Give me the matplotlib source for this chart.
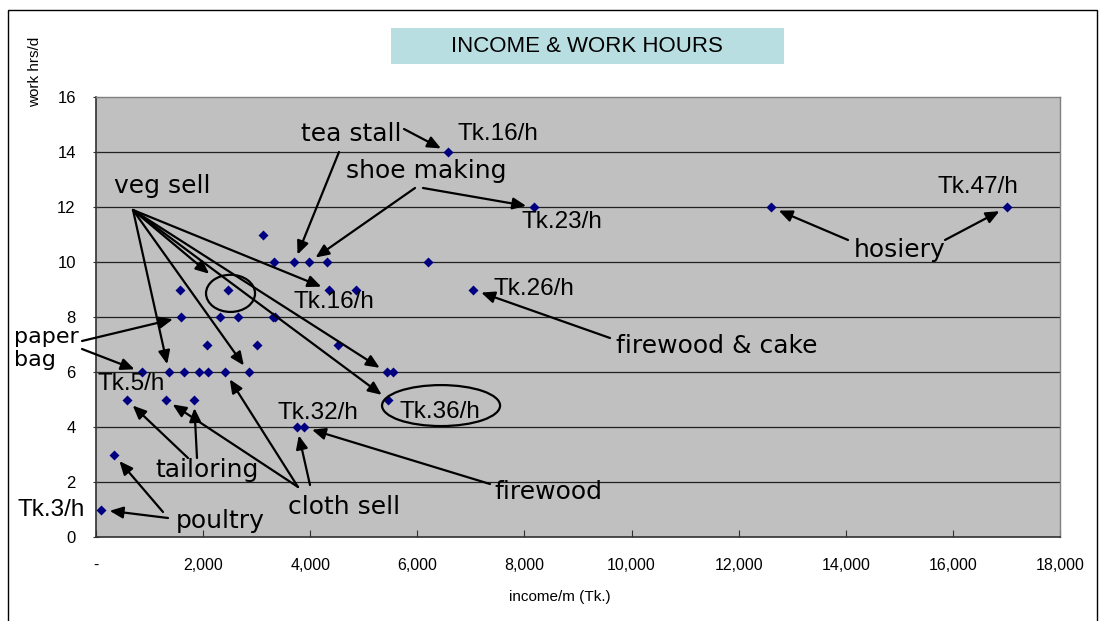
import matplotlib
matplotlib.use("Agg")
import matplotlib.pyplot as plt
from matplotlib.patches import Ellipse, Rectangle

# ---------------- data ----------------
income = [100, 336, 573, 1301, 1830, 5459, 865, 1363, 1649, 1918, 2098, 2415, 2851,
          5428, 5540, 2067, 3001, 4525, 1587, 2322, 2646, 3300, 3340, 1569, 2471,
          4351, 4850, 7046, 3324, 3704, 3972, 4320, 6194, 3113, 8185, 12605, 17007,
          6579, 3753, 3884]
hours = [1, 3, 5, 5, 5, 5, 6, 6, 6, 6, 6, 6, 6,
         6, 6, 7, 7, 7, 8, 8, 8, 8, 8, 9, 9,
         9, 9, 9, 10, 10, 10, 10, 10, 11, 12, 12, 12,
         14, 4, 4]
x_ticks = [0, 2000, 4000, 6000, 8000, 10000, 12000, 14000, 16000, 18000]
x_tick_labels = ["-", "2,000", "4,000", "6,000", "8,000", "10,000", "12,000",
                 "14,000", "16,000", "18,000"]
y_ticks = [0, 2, 4, 6, 8, 10, 12, 14, 16]
title = "INCOME & WORK HOURS"
x_label = "income/m (Tk.)"
y_label = "work hrs/d"

W, H = 1105, 621
fig = plt.figure(figsize=(W / 100, H / 100), dpi=100)
fig.patch.set_facecolor("white")

L, R, T, B = 96, 1060, 97.3, 537.3
ax = fig.add_axes([L / W, 1 - B / H, (R - L) / W, (B - T) / H])
ax.set_facecolor("#C0C0C0")
ax.set_xlim(0, 18000)
ax.set_ylim(0, 16)

ax.scatter(income, hours, marker="D", s=26, color="#000080", zorder=5, linewidths=0)

for yv in y_ticks[1:-1]:
    ax.axhline(yv, color="#202020", lw=0.9, zorder=1)

for s in ["top", "right"]:
    ax.spines[s].set_color("#808080")
    ax.spines[s].set_linewidth(1.0)
for s in ["left", "bottom"]:
    ax.spines[s].set_color("#303030")
    ax.spines[s].set_linewidth(1.2)

narrow = ["Liberation Sans Narrow", "Liberation Sans", "DejaVu Sans"]
ax.set_xticks(x_ticks)
ax.set_xticklabels(x_tick_labels, family=narrow, fontsize=11.5)
ax.set_yticks(y_ticks)
ax.set_yticklabels([str(v) for v in y_ticks], family="Liberation Sans", fontsize=12)
ax.tick_params(axis="x", direction="in", length=5, pad=15, color="#303030")
ax.tick_params(axis="y", direction="inout", length=5, pad=12, color="#303030")

fig.text(560 / W, 1 - 597 / H, x_label, ha="center", va="center",
         family=narrow, fontsize=11)
fig.text(35 / W, 1 - 72 / H, y_label, ha="center", va="center", rotation=90,
         family=narrow, fontsize=11)

# title box
fig.patches.append(Rectangle((391 / W, 1 - 64 / H), (784 - 391) / W, 36 / H,
                             transform=fig.transFigure, facecolor="#B8DEE2",
                             edgecolor="none", zorder=0))
fig.text(587 / W, 1 - 46 / H, title, ha="center", va="center",
         family="Liberation Sans", fontsize=16)

# figure frame
fig.patches.append(Rectangle((8 / W, -0.01), (1097 - 8) / W, 1 - 10 / H + 0.01,
                             transform=fig.transFigure, facecolor="none",
                             edgecolor="black", lw=1.0, zorder=0))

WORD = dict(family="DejaVu Sans", fontsize=18, color="black")
TK = dict(family="Liberation Sans", fontsize=17.5, color="black")


def fp(x, y):
    return (x, H - y)


def label(x, y, s, ha="left", **kw):
    ax.annotate(s, xy=fp(x, y), xycoords="figure pixels", ha=ha, va="center",
                annotation_clip=False, zorder=6, **kw)


def arrow(i, sx, sy, shrink=6):
    ax.annotate("", xy=(income[i], hours[i]), xycoords="data",
                xytext=fp(sx, sy), textcoords="figure pixels",
                arrowprops=dict(arrowstyle="-|>,head_length=0.8,head_width=0.35",
                                color="black", lw=1.6, shrinkA=0, shrinkB=shrink),
                annotation_clip=False, zorder=6)


def idx(xv, yv):
    return min(range(len(income)),
               key=lambda k: abs(income[k] - xv) + 1000 * abs(hours[k] - yv))


# word labels
label(351, 134, "tea stall", ha="center", **WORD)
label(426, 171, "shoe making", ha="center", **WORD)
label(162, 186, "veg sell", ha="center", **WORD)
label(14, 337, "paper", **dict(WORD, fontsize=16))
label(14, 360, "bag", **dict(WORD, fontsize=16))
label(717, 346, "firewood & cake", ha="center", **WORD)
label(900, 250, "hosiery", ha="center", **WORD)
label(548, 492, "firewood", ha="center", **WORD)
label(344, 507, "cloth sell", ha="center", **WORD)
label(207, 470, "tailoring", ha="center", **WORD)
label(220, 521, "poultry", ha="center", **WORD)

# Tk labels
label(457, 134, "Tk.16/h", **TK)
label(521, 222, "Tk.23/h", **TK)
label(937, 187, "Tk.47/h", **TK)
label(494, 289, "Tk.26/h", **TK)
label(294, 302, "Tk.16/h", **TK)
label(98, 384, "Tk.5/h", **TK)
label(278, 413, "Tk.32/h", **TK)
label(400, 412, "Tk.36/h", **TK)
label(18, 510, "Tk.3/h", **TK)

# arrows
arrow(idx(6579, 14), 404, 129)
arrow(idx(3704, 10), 339, 152)
arrow(idx(3972, 10), 415, 188)
arrow(idx(8185, 12), 423, 188)
vs = (133, 210)
arrow(idx(2471, 9), *vs, shrink=18)
arrow(idx(1363, 6), *vs)
arrow(idx(2851, 6), *vs)
arrow(idx(4351, 9), *vs)
arrow(idx(5428, 6), *vs)
arrow(idx(5459, 5), *vs)
arrow(idx(1587, 8), 82, 341)
arrow(idx(865, 6), 82, 349)
arrow(idx(7046, 9), 610, 338)
arrow(idx(12605, 12), 848, 240)
arrow(idx(17007, 12), 945, 240)
arrow(idx(3884, 4), 490, 484)
arrow(idx(2415, 6), 298, 487)
arrow(idx(1301, 5), 298, 487)
arrow(idx(3753, 4), 310, 485)
arrow(idx(573, 5), 188, 458)
arrow(idx(1830, 5), 197, 458)
arrow(idx(100, 1), 168, 518)
arrow(idx(336, 3), 163, 512)

# ellipses
ax.add_patch(Ellipse((2512, 8.87), 915, 1.35, facecolor="none", edgecolor="black",
                     lw=1.6, zorder=6))
ax.add_patch(Ellipse((6443, 4.79), 2204, 1.49, facecolor="none", edgecolor="black",
                     lw=1.6, zorder=6))

fig.savefig("out.png", dpi=100)
